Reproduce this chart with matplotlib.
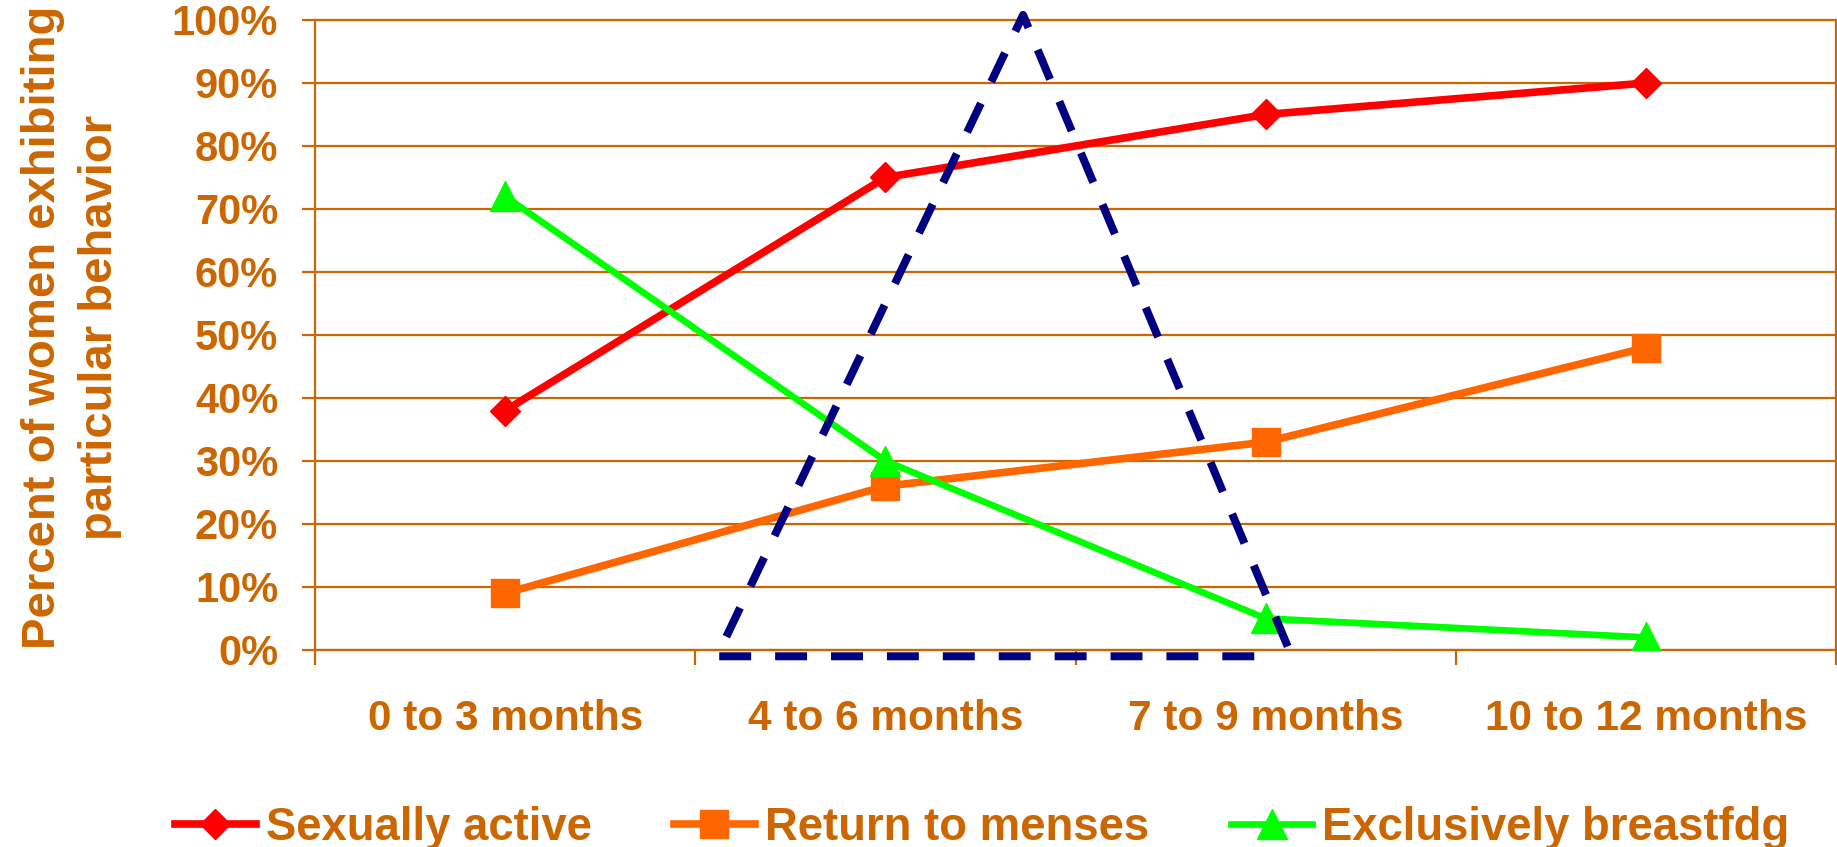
import matplotlib.pyplot as plt

plt.rcParams['font.family'] = ['Liberation Sans', 'DejaVu Sans']
plt.rcParams['font.weight'] = 'bold'

brown = '#CC6600'

months = ['0 to 3 months', '4 to 6 months', '7 to 9 months', '10 to 12 months']
sexually_active = [38, 75, 85, 90]
return_to_menses = [9, 26, 33, 48]
exclusive_bf = [72, 30, 5, 2]

# dashed outline drawn across the middle of the chart
tri_x = [1.97, 0.557, 1.362, 2.07]
tri_y = [-1.0, -1.0, 100.8, -1.2]

fig = plt.figure(figsize=(18.37, 8.47), dpi=100)
ax = fig.add_axes([0.1715, 0.2326, 0.8280, 0.7438])

x = list(range(len(months)))
ax.plot(x, sexually_active, color='#FF0000', lw=5.5, marker='D', ms=15,
        label='Sexually active', zorder=3)
ax.plot(x, return_to_menses, color='#FF6600', lw=5.5, marker='s', ms=19.5,
        label='Return to menses', zorder=3)
ax.plot(x, exclusive_bf, color='#00FF00', lw=4.8, marker='^', ms=22,
        label='Exclusively breastfdg', zorder=4)
ax.plot(tri_x, tri_y, color='#000080', lw=5.75, ls=(0, (4, 3)),
        clip_on=False, zorder=5, dash_capstyle='butt')

ax.set_xlim(-0.5, 3.5)
ax.set_ylim(0, 100)
ax.set_yticks(range(0, 101, 10))
ax.set_yticklabels([f'{v}%' for v in range(0, 101, 10)])
ax.set_xticks(x)
ax.set_xticklabels(months)
ax.set_xticks([-0.5, 0.5, 1.5, 2.5, 3.5], minor=True)

ax.grid(axis='y', color=brown, lw=1.6)
ax.set_axisbelow(True)
for side in ax.spines.values():
    side.set_color(brown)
    side.set_linewidth(1.6)

ax.tick_params(axis='y', colors=brown, length=9.5, width=1.6, pad=17,
               labelsize=30)
ax.tick_params(axis='x', which='major', length=0, pad=35, labelsize=30.5,
               labelcolor=brown)
ax.tick_params(axis='x', which='minor', length=11, width=1.6, color=brown)

fig.text(0.039, 0.613, 'Percent of women exhibiting\nparticular behavior',
         rotation=90, ha='center', va='center', multialignment='center',
         fontsize=34, color=brown, linespacing=1.37)

fig.legend(loc='center', bbox_to_anchor=(0.5346, 0.022), ncol=3,
           frameon=False, fontsize=32.8, labelcolor=brown, handlelength=1.78,
           handletextpad=0.22, columnspacing=1.8, borderpad=0)

fig.savefig('out.png', dpi=100)
